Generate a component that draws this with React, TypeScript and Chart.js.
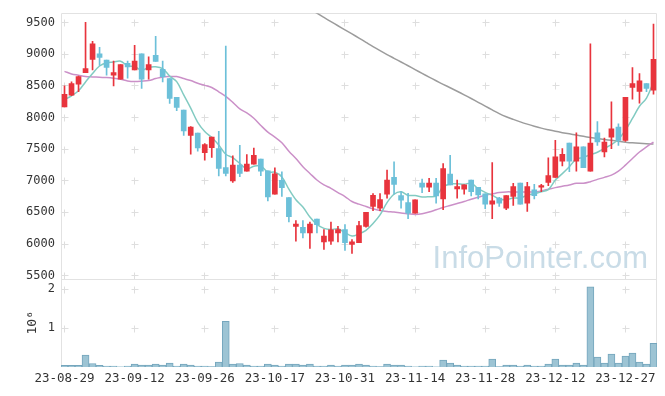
import React, { useEffect, useRef } from 'react';
import { Chart, registerables } from 'chart.js';

Chart.register(...registerables);

const dates = [
  '23-08-29', '23-08-30', '23-08-31', '23-09-01', '23-09-04', '23-09-05', '23-09-06', '23-09-07', '23-09-08', '23-09-11',
  '23-09-12', '23-09-13', '23-09-14', '23-09-15', '23-09-18', '23-09-19', '23-09-20', '23-09-21', '23-09-22', '23-09-25',
  '23-09-26', '23-09-27', '23-10-04', '23-10-05', '23-10-06', '23-10-10', '23-10-11', '23-10-12', '23-10-13', '23-10-16',
  '23-10-17', '23-10-18', '23-10-19', '23-10-20', '23-10-23', '23-10-24', '23-10-25', '23-10-26', '23-10-27', '23-10-30',
  '23-10-31', '23-11-01', '23-11-02', '23-11-03', '23-11-06', '23-11-07', '23-11-08', '23-11-09', '23-11-10', '23-11-13',
  '23-11-14', '23-11-15', '23-11-16', '23-11-17', '23-11-20', '23-11-21', '23-11-22', '23-11-23', '23-11-24', '23-11-27',
  '23-11-28', '23-11-29', '23-11-30', '23-12-01', '23-12-04', '23-12-05', '23-12-06', '23-12-07', '23-12-08', '23-12-11',
  '23-12-12', '23-12-13', '23-12-14', '23-12-15', '23-12-18', '23-12-19', '23-12-20', '23-12-21', '23-12-22', '23-12-26',
  '23-12-27', '23-12-28', '24-01-02', '24-01-03', '24-01-04',
];

const opens = [
  8164, 8352, 8524, 8706, 8915, 9004, 8905, 8665, 8602, 8853,
  8748, 9004, 8748, 8978, 8759, 8613, 8315, 8117, 7715, 7752,
  7444, 7522, 7506, 7209, 6995, 7246, 7152, 7261, 7340, 7157,
  6787, 7006, 6734, 6280, 6265, 6176, 6395, 6035, 6046, 6176,
  6228, 5994, 6020, 6280, 6593, 6567, 6786, 7053, 6766, 6656,
  6489, 6964, 6896, 6964, 6713, 7105, 6870, 6865, 7011, 6896,
  6791, 6630, 6724, 6567, 6750, 6964, 6646, 6854, 6896, 6974,
  7053, 7308, 7595, 7308, 7533, 7152, 7757, 7454, 7689, 7846,
  7637, 8472, 8409, 8534, 8430,
];

const highs = [
  8498, 8560, 8654, 9500, 9202, 9108, 8905, 8889, 8832, 8889,
  9139, 9004, 8957, 9280, 8889, 8613, 8315, 8117, 7856, 7752,
  7585, 7689, 7778, 9124, 7392, 7559, 7412, 7517, 7340, 7157,
  7204, 7141, 6734, 6369, 6369, 6348, 6395, 6228, 6348, 6280,
  6306, 6072, 6359, 6500, 6797, 6797, 7167, 7298, 6828, 6802,
  6698, 7026, 7037, 7037, 7272, 7402, 7011, 6933, 7011, 6896,
  6791, 7287, 6739, 6765, 6958, 6964, 6974, 6943, 6943, 7360,
  7637, 7506, 7595, 7757, 7533, 9160, 7934, 7673, 8247, 7898,
  8315, 8785, 8691, 8534, 9473,
];

const lows = [
  8164, 8341, 8404, 8706, 8748, 8821, 8665, 8498, 8602, 8618,
  8748, 8456, 8602, 8884, 8560, 8221, 8106, 7715, 7418, 7465,
  7324, 7366, 7074, 7074, 6974, 7063, 7152, 7261, 7079, 6682,
  6787, 6750, 6348, 6046, 6098, 5931, 6176, 5915, 5994, 6035,
  5900, 5853, 6020, 6265, 6526, 6526, 6724, 6786, 6567, 6401,
  6489, 6813, 6828, 6646, 6541, 6933, 6724, 6786, 6760, 6713,
  6557, 6401, 6593, 6541, 6609, 6630, 6515, 6713, 6828, 6922,
  7053, 7235, 7141, 7152, 7204, 7152, 7559, 7376, 7506, 7559,
  7621, 8289, 8226, 8404, 8367,
];

const closes = [
  8362, 8534, 8644, 8769, 9160, 8946, 8790, 8706, 8832, 8795,
  8889, 8602, 8832, 8884, 8644, 8299, 8159, 7788, 7846, 7517,
  7569, 7689, 7194, 7115, 7246, 7115, 7261, 7402, 7152, 6745,
  7110, 6891, 6432, 6317, 6176, 6317, 6306, 6124, 6223, 6228,
  6020, 6035, 6291, 6500, 6771, 6703, 7011, 6943, 6693, 6489,
  6698, 6896, 6964, 6760, 7193, 6933, 6906, 6933, 6828, 6776,
  6630, 6682, 6646, 6765, 6906, 6630, 6906, 6765, 6922, 7079,
  7376, 7418, 7308, 7533, 7204, 7595, 7611, 7611, 7820, 7637,
  8315, 8534, 8576, 8456, 8915,
];

const ma5 = [
  8280, 8340, 8420, 8560, 8694, 8811, 8862, 8874, 8887, 8814,
  8802, 8743, 8790, 8800, 8770, 8652, 8564, 8355, 8147, 7922,
  7776, 7682, 7563, 7417, 7363, 7272, 7186, 7228, 7235, 7135,
  7134, 7060, 6866, 6699, 6585, 6427, 6310, 6248, 6229, 6240,
  6180, 6126, 6159, 6215, 6323, 6460, 6655, 6786, 6824, 6768,
  6767, 6744, 6748, 6761, 6902, 6949, 6951, 6945, 6959, 6875,
  6815, 6770, 6712, 6700, 6726, 6726, 6771, 6794, 6826, 6860,
  7010, 7112, 7221, 7343, 7368, 7412, 7450, 7511, 7568, 7655,
  7799, 7983, 8176, 8304, 8559,
];

const ma20 = [
  8727, 8686, 8665, 8644, 8639, 8633, 8628, 8618, 8602, 8576,
  8566, 8571, 8581, 8613, 8639, 8644, 8644, 8613, 8581, 8539,
  8505, 8472, 8404, 8331, 8237, 8133, 8070, 7986, 7872, 7767,
  7689, 7600, 7465, 7350, 7220, 7115, 7011, 6933, 6880, 6813,
  6750, 6672, 6630, 6593, 6557, 6531, 6515, 6505, 6489, 6479,
  6468, 6479, 6505, 6541, 6578, 6609, 6640, 6672, 6708, 6739,
  6771, 6792, 6813, 6823, 6823, 6823, 6823, 6823, 6839, 6865,
  6891, 6912, 6933, 6959, 6959, 6985, 7021, 7053, 7089, 7152,
  7246, 7350, 7454, 7533, 7611,
];

const ma60 = [
  null, null, null, null, null, null, null, null, null, null,
  null, null, null, null, null, null, null, null, null, null,
  null, null, null, null, null, null, null, null, null, null,
  null, null, null, null, null, 9715, 9645, 9578, 9512, 9447,
  9382, 9318, 9252, 9185, 9118, 9054, 8992, 8933, 8874, 8815,
  8755, 8695, 8636, 8578, 8522, 8468, 8413, 8356, 8298, 8238,
  8178, 8118, 8060, 8010, 7968, 7929, 7893, 7860, 7830, 7804,
  7780, 7759, 7740, 7720, 7701, 7683, 7667, 7652, 7637, 7622,
  7609, 7598, 7590, 7584, 7579,
];

const volumeMillions = [
  0.04, 0.04, 0.04, 0.305, 0.09, 0.04, 0.025, 0.025, 0.005, 0.025,
  0.075, 0.05, 0.05, 0.075, 0.05, 0.1, 0.025, 0.075, 0.05, 0.025,
  0.025, 0.01, 0.127, 1.17, 0.075, 0.09, 0.05, 0.025, 0.025, 0.075,
  0.05, 0.025, 0.075, 0.075, 0.05, 0.075, 0.025, 0.025, 0.05, 0.025,
  0.05, 0.05, 0.075, 0.05, 0.025, 0.01, 0.075, 0.05, 0.05, 0.025,
  0.005, 0.025, 0.025, 0.005, 0.178, 0.1, 0.05, 0.025, 0.025, 0.025,
  0.025, 0.204, 0.01, 0.05, 0.05, 0.025, 0.05, 0.025, 0.025, 0.075,
  0.204, 0.05, 0.05, 0.1, 0.05, 2.06, 0.254, 0.1, 0.33, 0.1,
  0.28, 0.356, 0.127, 0.075, 0.61,
];

const priceTicks = [5500, 6000, 6500, 7000, 7500, 8000, 8500, 9000, 9500];
const volumeTicks = [1, 2];
const xTickEvery = 10;

const UP = '#e8343d';
const DOWN = '#6cc0d9';
const FONT = '"DejaVu Sans Mono", monospace';

const decorPlugin = {
  id: 'decor',
  beforeDatasetsDraw(chart: any) {
    const { ctx } = chart;
    const xs = chart.scales.x;
    const yp = chart.scales.y;
    const yv = chart.scales.yv;
    ctx.save();
    // watermark
    ctx.font = '31px "Liberation Sans", sans-serif';
    ctx.fillStyle = '#c9dce7';
    ctx.textAlign = 'right';
    ctx.textBaseline = 'alphabetic';
    ctx.fillText('InfoPointer.com', xs.right - 9, yp.bottom - 11);
    // cross grid marks
    ctx.strokeStyle = '#dedede';
    ctx.lineWidth = 1;
    const arm = 3;
    const cross = (px: number, py: number) => {
      const cx = Math.floor(px) + 0.5;
      const cy = Math.floor(py) + 0.5;
      ctx.beginPath();
      ctx.moveTo(cx - arm, cy);
      ctx.lineTo(cx + arm + 1, cy);
      ctx.moveTo(cx, cy - arm);
      ctx.lineTo(cx, cy + arm + 1);
      ctx.stroke();
    };
    for (let i = 0; i < dates.length; i += xTickEvery) {
      const px = xs.getPixelForValue(i);
      priceTicks.forEach((v) => cross(px, yp.getPixelForValue(v)));
      volumeTicks.forEach((v) => cross(px, yv.getPixelForValue(v)));
    }
    // panel borders
    ctx.strokeStyle = '#e2e2e2';
    const L = Math.round(xs.left) + 0.5;
    const R = Math.round(xs.right) - 0.5;
    const T = Math.round(yp.top) + 0.5;
    const M = Math.round(yp.bottom) + 0.5;
    const B = Math.round(yv.bottom);
    ctx.beginPath();
    ctx.moveTo(L, T); ctx.lineTo(R, T);
    ctx.moveTo(L, T); ctx.lineTo(L, B);
    ctx.moveTo(R, T); ctx.lineTo(R, B);
    ctx.moveTo(L, M); ctx.lineTo(R, M);
    ctx.stroke();
    ctx.restore();
  },
};

export default function App() {
  const ref = useRef<HTMLCanvasElement>(null);
  useEffect(() => {
    if (!ref.current) return;
    const candleColor = (c: any) => (closes[c.dataIndex] >= opens[c.dataIndex] ? UP : DOWN);
    const chart = new Chart(ref.current, {
      type: 'bar',
      data: {
        labels: dates,
        datasets: [
          {
            type: 'bar',
            label: 'body',
            data: opens.map((o, i) => [o, closes[i]]),
            yAxisID: 'y',
            backgroundColor: candleColor,
            barThickness: 5,
            minBarLength: 1,
            grouped: false,
            order: 1,
          } as any,
          {
            type: 'bar',
            label: 'wick',
            data: lows.map((l, i) => [l, highs[i]]),
            yAxisID: 'y',
            backgroundColor: candleColor,
            barThickness: 1,
            minBarLength: 1,
            grouped: false,
            order: 2,
          } as any,
          {
            type: 'line',
            label: 'MA5',
            data: ma5,
            yAxisID: 'y',
            borderColor: '#82cbc2',
            borderWidth: 1.5,
            pointRadius: 0,
            tension: 0.35,
            order: 3,
          } as any,
          {
            type: 'line',
            label: 'MA20',
            data: ma20,
            yAxisID: 'y',
            borderColor: '#cb90c8',
            borderWidth: 1.5,
            pointRadius: 0,
            tension: 0.35,
            order: 4,
          } as any,
          {
            type: 'line',
            label: 'MA60',
            data: ma60,
            yAxisID: 'y',
            borderColor: '#9c9c9c',
            borderWidth: 1.5,
            pointRadius: 0,
            tension: 0.35,
            order: 5,
          } as any,
          {
            type: 'bar',
            label: 'volume',
            data: volumeMillions,
            yAxisID: 'yv',
            backgroundColor: '#9dc4d4',
            borderColor: '#75a6bd',
            borderWidth: 1,
            barPercentage: 1,
            categoryPercentage: 1,
            grouped: false,
            order: 6,
          } as any,
        ],
      },
      options: {
        animation: false,
        responsive: true,
        maintainAspectRatio: false,
        layout: { padding: { top: 10, right: 8, left: 0, bottom: 0 } },
        plugins: { legend: { display: false }, tooltip: { enabled: false } },
        scales: {
          x: {
            type: 'category',
            offset: true,
            grid: { display: false, drawTicks: false },
            border: { display: false },
            ticks: {
              autoSkip: false,
              maxRotation: 0,
              minRotation: 0,
              padding: 4,
              color: '#333',
              font: { family: FONT, size: 12.5 },
              callback(this: any, value: any) {
                return Number(value) % xTickEvery === 0 ? this.getLabelForValue(value) : null;
              },
            },
            afterFit(s: any) { s.height = 29; },
          },
          yv: {
            type: 'linear',
            position: 'left',
            stack: 'panels',
            stackWeight: 1,
            min: 0,
            max: 2.27,
            grid: { display: false, drawTicks: false },
            border: { display: false },
            title: {
              display: true,
              text: '10\u2076',
              color: '#333',
              font: { family: FONT, size: 13 },
              padding: { top: 25, bottom: 0 },
            },
            ticks: {
              padding: 6,
              color: '#333',
              font: { family: FONT, size: 12 },
              callback: (v: any) => String(v),
            },
            afterBuildTicks(s: any) { s.ticks = volumeTicks.map((v) => ({ value: v })); },
            afterFit(s: any) { s.width = 61; },
          },
          y: {
            type: 'linear',
            position: 'left',
            stack: 'panels',
            stackWeight: 3,
            min: 5455,
            max: 9645,
            grid: { display: false, drawTicks: false },
            border: { display: false },
            ticks: {
              padding: 6,
              color: '#333',
              font: { family: FONT, size: 12 },
              callback: (v: any) => String(v),
            },
            afterBuildTicks(s: any) { s.ticks = priceTicks.map((v) => ({ value: v })); },
            afterFit(s: any) { s.width = 61; },
          },
        },
      } as any,
      plugins: [decorPlugin],
    });
    return () => chart.destroy();
  }, []);
  return (
    <div style={{ position: 'absolute', left: 0, top: 0, width: 665, height: 396, background: '#fff' }}>
      <canvas ref={ref} />
    </div>
  );
}
